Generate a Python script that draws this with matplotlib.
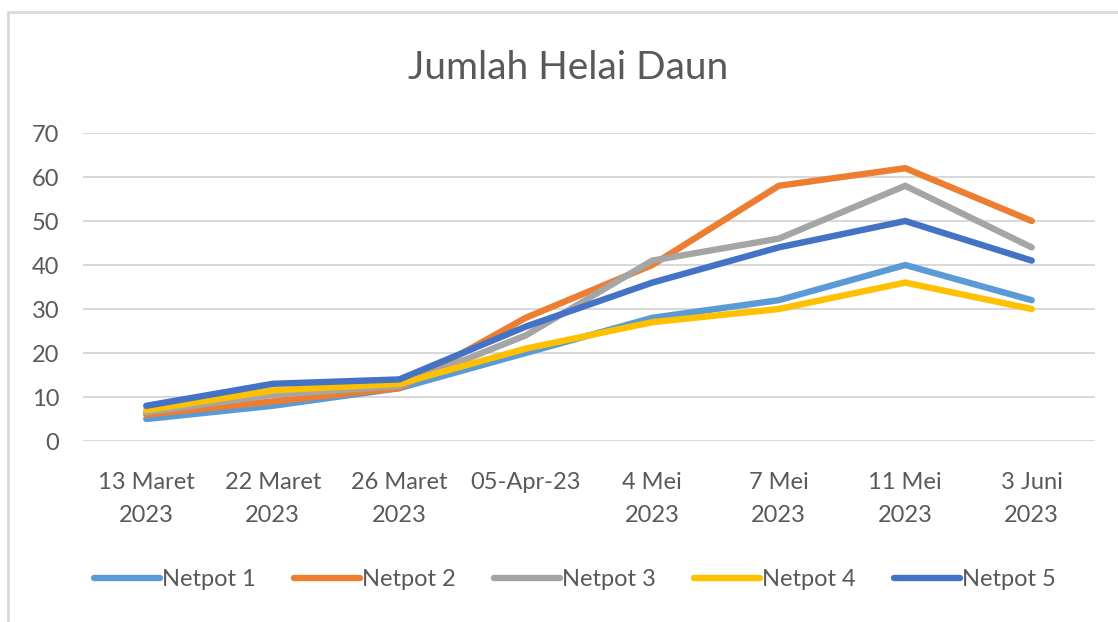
import matplotlib.pyplot as plt
from matplotlib.patches import Rectangle

# data
dates = ['13 Maret\n2023', '22 Maret\n2023', '26 Maret\n2023', '05-Apr-23',
         '4 Mei\n2023', '7 Mei\n2023', '11 Mei\n2023', '3 Juni\n2023']
netpot_1 = [5, 8, 12, 20, 28, 32, 40, 32]
netpot_2 = [6, 9, 12, 28, 40, 58, 62, 50]
netpot_3 = [6.5, 10.5, 12.5, 24, 41, 46, 58, 44]
netpot_4 = [7, 11.5, 13, 21, 27, 30, 36, 30]
netpot_5 = [8, 13, 14, 26, 36, 44, 50, 41]

series = [('Netpot 1', netpot_1, '#5B9BD5'),
          ('Netpot 2', netpot_2, '#ED7D31'),
          ('Netpot 3', netpot_3, '#A5A5A5'),
          ('Netpot 4', netpot_4, '#FFC000'),
          ('Netpot 5', netpot_5, '#4472C4')]

plt.rcParams['font.family'] = ['Lato', 'DejaVu Sans']
text_color = '#595959'

W, H = 1118, 622
fig = plt.figure(figsize=(W / 100, H / 100), dpi=100)
ax = fig.add_axes([83 / W, 1 - 441 / H, (1095 - 83) / W, (441 - 133) / H])

# chart border
fig.patches.append(Rectangle((8 / W, -0.05), 1.2, 1 - 12 / H + 0.05,
                             transform=fig.transFigure, fill=False,
                             edgecolor='#d9d9d9', linewidth=2))

x = range(len(dates))
for name, vals, color in series:
    ax.plot(x, vals, color=color, linewidth=4.6, label=name,
            solid_capstyle='round', solid_joinstyle='miter')

ax.set_xlim(-0.5, len(dates) - 0.5)
ax.set_ylim(0, 70)
ax.set_yticks(range(0, 71, 10))
ax.set_xticks(list(x))
ax.set_xticklabels(dates, fontsize=17, color=text_color, linespacing=1.75)
ax.tick_params(axis='y', labelsize=17, labelcolor=text_color, length=0, pad=17)
ax.tick_params(axis='x', length=0, pad=22)
ax.grid(axis='y', color='#d9d9d9', linewidth=1.5)
ax.set_axisbelow(True)
for s in ax.spines.values():
    s.set_visible(False)

fig.text(568 / W, 1 - 68 / H, 'Jumlah Helai Daun', ha='center', va='center',
         fontsize=28, color=text_color)

leg = fig.legend(loc='center', bbox_to_anchor=(575 / W, 1 - 580 / H), ncol=5,
                 frameon=False, fontsize=17, handlelength=2.8,
                 handletextpad=0.1, columnspacing=1.6)
for t in leg.get_texts():
    t.set_color(text_color)

fig.savefig('out.png', dpi=100)
